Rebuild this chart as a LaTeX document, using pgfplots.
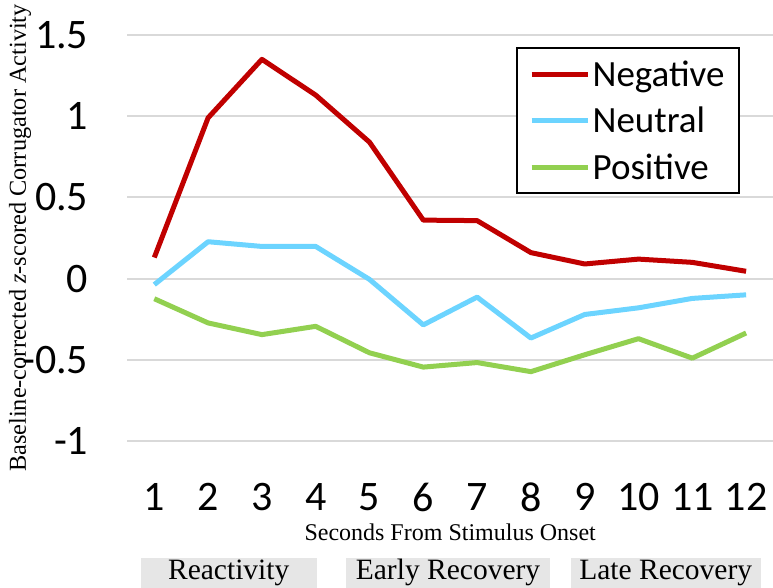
\documentclass[border=0pt]{standalone}
\usepackage{pgfplots}
\pgfplotsset{compat=1.18}
\usepackage{fontspec}
\setmainfont{Liberation Serif}
\newfontfamily\calibri{Carlito}
\definecolor{cneg}{RGB}{192,0,0}
\definecolor{cneu}{RGB}{108,212,255}
\definecolor{cpos}{RGB}{146,208,80}
\definecolor{cgrid}{RGB}{217,217,217}
\definecolor{cbox}{RGB}{230,230,230}
\begin{document}
\begin{tikzpicture}[x=1pt,y=1pt]
\path[use as bounding box] (0,0) rectangle (773,588);
% phase boxes below the axis
\fill[cbox] (140.7,0) rectangle (316.7,29.7);
\fill[cbox] (346,0) rectangle (550,29.7);
\fill[cbox] (570.7,0) rectangle (760.7,29.7);
\node[anchor=base, inner sep=0, font=\fontsize{29.5}{29.5}\selectfont] at (228.7,8) {Reactivity};
\node[anchor=base, inner sep=0, font=\fontsize{29.5}{29.5}\selectfont] at (448,8) {Early Recovery};
\node[anchor=base, inner sep=0, font=\fontsize{29.5}{29.5}\selectfont] at (665.7,8) {Late Recovery};
\begin{axis}[
  at={(127.4pt,147pt)}, anchor=south west,
  scale only axis, width=645.6pt, height=406pt,
  xmin=0.5, xmax=12.5, ymin=-1, ymax=1.5,
  axis line style={draw=none},
  xtick={1,2,3,4,5,6,7,8,9,10,11,12},
  xticklabels={1,2,3,4,5,6,7,8,9,10,11,12},
  ytick={-1,-0.5,0,0.5,1,1.5},
  yticklabels={-1,-0.5,0,0.5,1,1.5},
  major tick length=0pt,
  ymajorgrids, grid style={cgrid, line width=2pt},
  tick label style={font=\fontsize{42}{42}\calibri, inner sep=0pt},
  yticklabel style={anchor=east, xshift=-39pt},
  xticklabel style={anchor=north, yshift=-42pt},
  xlabel={Seconds From Stimulus Onset},
  xlabel style={at={(rel axis cs:0.5,0)}, anchor=center, yshift=-91pt, font=\fontsize{24}{24}\selectfont, inner sep=0pt},
  ylabel={Baseline-corrected \textit{z}-scored Corrugator Activity},
  ylabel style={at={(rel axis cs:0,0.5)}, anchor=center, yshift=107.4pt, font=\fontsize{24.3}{24.3}\selectfont, inner sep=0pt},
  clip=false,
  legend cell align=left,
  legend image code/.code={\draw[#1, line width=5pt] (0pt,0pt) -- (56pt,0pt);},
  legend style={at={(rel axis cs:1,1)}, anchor=north east, xshift=-33pt, yshift=-12pt,
    draw=black, line width=2.2pt, inner xsep=12pt, inner ysep=2.75pt,
    font=\fontsize{37}{37}\calibri,
    nodes={inner xsep=2.5pt, inner ysep=7.25pt, text height=28pt, text depth=4pt}},
  every axis plot/.append style={line width=5pt, line join=round},
]
\addplot[cneg] coordinates {(1,0.13) (2,0.99) (3,1.35) (4,1.13) (5,0.84) (6,0.36) (7,0.357) (8,0.16) (9,0.09) (10,0.12) (11,0.10) (12,0.045)};
\addlegendentry{Negative}
\addplot[cneu] coordinates {(1,-0.037) (2,0.227) (3,0.198) (4,0.198) (5,-0.005) (6,-0.285) (7,-0.114) (8,-0.366) (9,-0.221) (10,-0.18) (11,-0.122) (12,-0.10)};
\addlegendentry{Neutral}
\addplot[cpos] coordinates {(1,-0.124) (2,-0.273) (3,-0.345) (4,-0.294) (5,-0.457) (6,-0.545) (7,-0.517) (8,-0.573) (9,-0.469) (10,-0.37) (11,-0.49) (12,-0.335)};
\addlegendentry{Positive}
\end{axis}
\end{tikzpicture}
\end{document}
